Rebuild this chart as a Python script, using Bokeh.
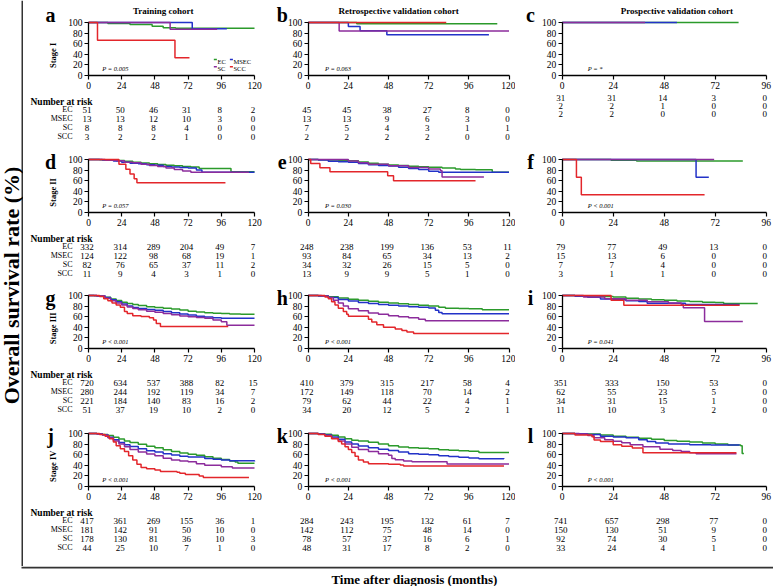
import math
from bokeh.plotting import figure
from bokeh.layouts import row, column
from bokeh.models import Range1d, FixedTicker
from bokeh.core.properties import value
from bokeh.embed import file_html
from bokeh.resources import INLINE

# ---------------- data ----------------
groups = ["EC", "MSEC", "SC", "SCC"]
group_colors = {"EC": "#2b9a2b", "MSEC": "#2332c8", "SC": "#8c2c9c", "SCC": "#e3262b"}
x_ticks_120 = [0, 24, 48, 72, 96, 120]
x_ticks_96 = [0, 24, 48, 72, 96]
y_ticks = [0, 20, 40, 60, 80, 100]
cohort_titles = ["Training cohort", "Retrospective validation cohort", "Prospective validation cohort"]
stage_labels = ["Stage I", "Stage II", "Stage III", "Stage IV"]
panel_letters = [["a", "b", "c"], ["d", "e", "f"], ["g", "h", "i"], ["j", "k", "l"]]
p_texts = [["P = 0.005", "P = 0.063", "P = *"],
           ["P = 0.057", "P = 0.030", "P < 0.001"],
           ["P < 0.001", "P < 0.001", "P = 0.041"],
           ["P < 0.001", "P < 0.001", "P < 0.001"]]
risk_times_120 = [0, 24, 48, 72, 96, 120]
risk_times_96 = [0, 24, 48, 72, 96]

# Kaplan-Meier curves: (months, survival %) ; last point = end of follow-up
km_a = {"EC": ([0, 14, 30, 46, 54, 63, 120], [100, 98, 96, 93, 90, 89, 89]),
        "MSEC": ([0, 75, 100], [100, 88, 88]),
        "SC": ([0, 59, 93], [100, 87.5, 87.5]),
        "SCC": ([0, 6.5, 62.5, 73], [100, 66.7, 33.3, 33.3])}
km_b = {"EC": ([0, 29, 113], [100, 97.8, 97.8]),
        "MSEC": ([0, 24, 31, 47, 108], [100, 92.3, 84.6, 76.9, 76.9]),
        "SC": ([0, 18.5, 120], [100, 84, 84]),
        "SCC": ([0, 82.5], [100, 100])}
km_c = {"EC": ([0, 83], [100, 100]),
        "MSEC": ([0, 54], [100, 100]),
        "SC": ([0, 39], [100, 100])}
km_d = {"EC": ([0, 8, 14, 20, 26, 32, 38, 44, 50, 56, 62, 68, 74, 80, 103, 120],
               [100, 99.5, 99, 98, 96.5, 95, 93.5, 92, 90.5, 89, 88, 87, 86, 83, 77, 77]),
        "MSEC": ([0, 10, 18, 24, 30, 36, 42, 48, 54, 60, 66, 72, 78, 82, 120],
                 [100, 99, 97, 95, 93, 92, 90, 89, 87, 86, 85, 84, 80, 76, 76]),
        "SC": ([0, 12, 20, 26, 32, 38, 44, 50, 56, 62, 68, 74, 116],
               [100, 98.8, 97.5, 95, 93.8, 91, 88.5, 87, 84, 81, 78.5, 76, 76]),
        "SCC": ([0, 22, 27, 30, 33, 35, 99], [100, 90.9, 81.8, 72.7, 63.6, 56, 56])}
km_e = {"EC": ([0, 6, 12, 18, 24, 30, 36, 42, 48, 54, 60, 66, 72, 80, 88, 91, 100, 110, 120],
               [100, 99.6, 99, 98.5, 97.5, 95.5, 93, 91, 89.5, 88.5, 87.5, 86.5, 85.5, 84, 82, 81, 80.5, 76, 76]),
        "MSEC": ([0, 6, 12, 18, 24, 30, 36, 42, 48, 54, 60, 66, 72, 78, 120],
                 [100, 98.9, 96.8, 95.7, 94.6, 92.4, 90, 88.9, 87.8, 85.5, 83, 81, 78, 76, 76]),
        "SC": ([0, 24, 30, 36, 48, 60, 72, 79, 80, 105],
               [100, 97, 94, 91, 88, 85, 82, 79, 67, 67]),
        "SCC": ([0, 1.5, 7, 13, 47.5, 51, 100], [100, 92.3, 84.6, 76.9, 69.2, 60, 60])}
km_f = {"EC": ([0, 23, 35, 85], [100, 98.7, 97, 97]),
        "MSEC": ([0, 63, 69], [100, 66.7, 66.7]),
        "SC": ([0, 71.5], [100, 100]),
        "SCC": ([0, 6.7, 9, 67], [100, 66.7, 33.3, 33.3])}
km_g = {"EC": ([0, 4, 8, 12, 16, 20, 24, 28, 32, 36, 42, 48, 54, 60, 66, 72, 78, 84, 90, 96, 102, 110, 120],
               [100, 99.5, 98.5, 96.5, 93.5, 90.5, 87.5, 85, 83, 81, 79, 77.5, 76, 74.5, 72.5, 70.5, 69, 67.5, 66.5, 66, 65, 64.5, 64.5]),
        "MSEC": ([0, 6, 12, 16, 20, 24, 28, 32, 36, 42, 48, 54, 60, 66, 72, 78, 84, 90, 96, 120],
                 [100, 99, 96, 92, 88, 84, 80, 77.5, 75.5, 73.5, 72, 70, 67.5, 65, 63, 61, 59.5, 58, 57, 57]),
        "SC": ([0, 6, 12, 16, 20, 24, 28, 32, 36, 42, 48, 54, 60, 66, 72, 78, 84, 90, 96, 100, 120],
               [100, 99, 95, 90, 86, 82, 78.5, 75.5, 73, 70.5, 68.5, 66, 63.5, 61.5, 60, 58.5, 57, 54, 50.5, 44, 44]),
        "SCC": ([0, 8, 11, 14, 17, 20, 23, 26, 28, 32, 38, 44, 47, 49, 52, 101],
                [100, 98, 94, 90, 86, 82, 78, 70, 66, 62, 60.5, 58, 54, 47, 41.5, 41.5])}
km_h = {"EC": ([0, 6, 12, 18, 24, 30, 36, 42, 48, 54, 60, 66, 72, 78, 82, 90, 96, 104, 120],
               [100, 99.5, 97.5, 95.5, 93, 91, 89, 87.5, 86, 84.5, 83, 81.5, 80, 78, 76, 75.5, 75, 73, 73]),
        "MSEC": ([0, 6, 12, 18, 24, 30, 36, 42, 48, 54, 60, 66, 72, 76, 78, 80, 120],
                 [100, 99, 96, 92.5, 89.5, 87, 85, 83, 81.5, 80, 79, 78, 76.5, 72, 68, 65.5, 65.5]),
        "SC": ([0, 8, 12, 15, 18, 21, 24, 30, 36, 42, 48, 54, 60, 66, 70, 120],
               [100, 99, 96, 91, 86, 80, 75, 71, 67, 64.5, 62, 60, 58, 55, 52.5, 52.5]),
        "SCC": ([0, 10, 12, 14, 16, 18, 21, 23, 24, 34, 36, 38, 41, 45, 52, 56, 59, 63, 120],
                [100, 97, 94, 88, 82, 76, 70, 64.5, 61, 61, 55, 50, 45, 40, 37, 34, 31, 28.5, 28.5])}
km_i = {"EC": ([0, 6, 12, 18, 24, 30, 36, 42, 48, 54, 60, 66, 72, 76, 92],
               [100, 99.6, 99, 98, 97, 95, 93.5, 92, 91, 89.5, 88.5, 87.5, 87, 85, 85]),
        "MSEC": ([0, 6, 12, 18, 24, 30, 36, 40, 58, 83.5],
                 [100, 98.4, 96.8, 93.5, 91.9, 90.3, 88.5, 85.5, 83, 83]),
        "SC": ([0, 10, 20, 30, 40, 50, 56, 57, 67, 85],
               [100, 97, 94, 91, 88, 86, 83, 77, 51, 51]),
        "SCC": ([0, 23, 29, 83.5], [100, 90.9, 81.8, 81.8])}
km_j = {"EC": ([0, 6, 10, 14, 18, 22, 26, 30, 36, 42, 48, 54, 60, 66, 72, 78, 84, 90, 96, 102, 106, 108, 120],
               [100, 99.5, 98, 96, 93, 89.5, 86, 83, 79.5, 76, 73, 69.5, 66, 63, 61, 59, 56, 53.5, 51, 48, 46, 44, 44]),
        "MSEC": ([0, 6, 10, 14, 18, 22, 26, 30, 36, 42, 48, 54, 60, 66, 72, 84, 90, 96, 102, 120],
                 [100, 99.5, 97.5, 93, 88, 83, 79, 75.5, 71, 67.5, 65, 62, 59.5, 57, 55.5, 53, 51.5, 50, 48.5, 47]),
        "SC": ([0, 6, 10, 14, 18, 22, 26, 30, 36, 42, 48, 54, 60, 66, 72, 78, 84, 96, 104, 120],
               [100, 99, 97, 92, 86, 80, 75, 70, 65, 61.5, 58, 53.5, 50, 48, 46.5, 43, 40, 37.5, 35, 35]),
        "SCC": ([0, 8, 12, 15, 18, 20, 23, 26, 29, 32, 35, 38, 42, 48, 52, 64, 66, 70, 80, 83, 116],
                [100, 98, 95, 90, 84, 77, 71, 66, 58, 50, 42, 36, 33.5, 31, 28.5, 27, 25, 22.5, 20, 17, 17])}
km_k = {"EC": ([0, 6, 10, 14, 18, 22, 26, 30, 36, 42, 48, 54, 60, 66, 72, 78, 84, 90, 96, 102, 120],
               [100, 99.5, 98.5, 96.5, 93.5, 90, 87.5, 86, 83.5, 80, 77, 74.5, 73, 72, 71, 69.5, 68.5, 67.5, 66.5, 64, 64]),
        "MSEC": ([0, 6, 10, 14, 18, 22, 26, 30, 36, 42, 48, 54, 60, 66, 72, 78, 84, 90, 96, 102, 117],
                 [100, 99, 97, 93.5, 89, 84, 80, 76.5, 73, 70.5, 68, 65, 62, 61, 60, 58, 56.5, 55, 54, 52.5, 52]),
        "SC": ([0, 6, 10, 14, 18, 22, 26, 30, 36, 42, 48, 50, 52, 57, 62, 83, 120],
               [100, 98.5, 96, 91, 86, 80, 74, 70, 66, 62, 59, 53, 50.5, 48, 46.5, 42.5, 42.5]),
        "SCC": ([0, 6, 10, 14, 18, 20, 22, 24, 26, 28, 30, 33, 36, 48, 55, 57, 117],
                [100, 98, 95, 90, 85, 80, 75, 70, 64, 57, 50, 46, 43, 42, 40.5, 38.5, 38.5])}
km_l = {"EC": ([0, 6, 12, 18, 24, 30, 36, 42, 48, 54, 60, 66, 72, 78, 84, 84.7, 85.5],
               [100, 99.7, 99, 97, 95, 93, 91, 89, 87, 85.5, 84, 82, 80, 78.5, 77, 62.5, 62.5]),
        "MSEC": ([0, 6, 12, 18, 24, 30, 36, 40, 44, 50, 60, 70, 83.5],
                 [100, 99.3, 98, 95, 93.5, 92, 88, 85, 82, 80, 79, 78.5, 78.5]),
        "SC": ([0, 8, 12, 15, 20, 24, 28, 32, 38, 46, 52, 56, 60, 63, 82],
               [100, 99, 96, 92, 88, 85.5, 82.5, 79, 75, 70.5, 68, 66, 63.5, 62, 62]),
        "SCC": ([0, 6, 14, 15, 18, 24, 28, 33, 38, 82],
                [100, 97, 93.9, 87.9, 84.8, 78.8, 75.8, 72.7, 63.6, 63.6])}

# Number at risk tables
risk_a = {"EC": [51, 50, 46, 31, 8, 2], "MSEC": [13, 13, 12, 10, 3, 0], "SC": [8, 8, 8, 4, 0, 0], "SCC": [3, 2, 2, 1, 0, 0]}
risk_b = {"EC": [45, 45, 38, 27, 8, 0], "MSEC": [13, 13, 9, 6, 3, 0], "SC": [7, 5, 4, 3, 1, 1], "SCC": [2, 2, 2, 2, 0, 0]}
risk_c = {"EC": [31, 31, 14, 3, 0], "MSEC": [2, 2, 1, 0, 0], "SC": [2, 2, 0, 0, 0]}
risk_d = {"EC": [332, 314, 289, 204, 49, 7], "MSEC": [124, 122, 98, 68, 19, 1], "SC": [82, 76, 65, 37, 11, 2], "SCC": [11, 9, 4, 3, 1, 0]}
risk_e = {"EC": [248, 238, 199, 136, 53, 11], "MSEC": [93, 84, 65, 34, 13, 2], "SC": [34, 32, 26, 15, 5, 0], "SCC": [13, 9, 9, 5, 1, 0]}
risk_f = {"EC": [79, 77, 49, 13, 0], "MSEC": [15, 13, 6, 0, 0], "SC": [7, 7, 4, 0, 0], "SCC": [3, 1, 1, 0, 0]}
risk_g = {"EC": [720, 634, 537, 388, 82, 15], "MSEC": [280, 244, 192, 119, 34, 7], "SC": [221, 184, 140, 83, 16, 2], "SCC": [51, 37, 19, 10, 2, 0]}
risk_h = {"EC": [410, 379, 315, 217, 58, 4], "MSEC": [172, 149, 118, 70, 14, 2], "SC": [79, 62, 44, 22, 4, 1], "SCC": [34, 20, 12, 5, 2, 1]}
risk_i = {"EC": [351, 333, 150, 53, 0], "MSEC": [62, 55, 23, 5, 0], "SC": [34, 31, 15, 1, 0], "SCC": [11, 10, 3, 2, 0]}
risk_j = {"EC": [417, 361, 269, 155, 36, 1], "MSEC": [181, 142, 91, 50, 10, 0], "SC": [178, 130, 81, 36, 10, 3], "SCC": [44, 25, 10, 7, 1, 0]}
risk_k = {"EC": [284, 243, 195, 132, 61, 7], "MSEC": [142, 112, 75, 48, 14, 0], "SC": [78, 57, 37, 16, 6, 1], "SCC": [48, 31, 17, 8, 2, 0]}
risk_l = {"EC": [741, 657, 298, 77, 0], "MSEC": [150, 130, 51, 9, 0], "SC": [92, 74, 30, 5, 0], "SCC": [33, 24, 4, 1, 0]}

km_all = [[km_a, km_b, km_c], [km_d, km_e, km_f], [km_g, km_h, km_i], [km_j, km_k, km_l]]
risk_all = [[risk_a, risk_b, risk_c], [risk_d, risk_e, risk_f], [risk_g, risk_h, risk_i], [risk_j, risk_k, risk_l]]

# ---------------- layout (pixels) ----------------
FONT = "Liberation Serif"
YLAB_W = 23
col_w = [239, 253, 258]
col_x0 = [65.0, 45.7, 46.7]          # px from panel left to x = 0
col_xmax = [120, 120, 96]
col_plotw = [166.0, 200.8, 204.0]    # px from x = 0 to x = xmax
row_h = [142, 137, 137, 150]
row_y100 = [22.0, 17.0, 16.0, 17.0]   # px from panel top to y = 100
PLOT_H = 53.0
PPU = PLOT_H / 100.0
risk_off = [34.0, 43.0, 52.0, 61.0]   # px below y = 0 for each group row
risk_off_c = [22.0, 30.0, 38.0]
header_off = 26.0
letter_px = [27.0, 19.7, 15.0]
XLAB_H = 20


def make_panel(r, c):
    W, H = col_w[c], row_h[r]
    x0, xmax = col_x0[c], col_xmax[c]
    ppm = col_plotw[c] / xmax
    Y0 = row_y100[r] + PLOT_H

    def dx(px):
        return (px - x0) / ppm

    def dy(px):
        return (Y0 - px) / PPU

    p = figure(width=W, height=H, x_range=Range1d(dx(0), dx(W)), y_range=Range1d(dy(H), dy(0)),
               output_backend="svg", toolbar_location=None, min_border=0)
    p.outline_line_color = None
    p.grid.grid_line_color = None
    p.background_fill_color = "white"
    p.border_fill_color = "white"

    ticks = x_ticks_120 if xmax == 120 else x_ticks_96
    xa = p.xaxis[0]
    ya = p.yaxis[0]
    xa.ticker = FixedTicker(ticks=ticks)
    ya.ticker = FixedTicker(ticks=y_ticks)
    xa.bounds = (0, xmax)
    ya.bounds = (0, 100)
    xa.fixed_location = 0
    ya.fixed_location = 0
    for ax in (xa, ya):
        ax.axis_line_color = "black"
        ax.axis_line_width = 1.3
        ax.major_tick_line_color = "black"
        ax.major_tick_line_width = 1.2
        ax.major_tick_out = 4
        ax.major_tick_in = 0
        ax.minor_tick_out = 0
        ax.minor_tick_in = 0
        ax.major_label_text_font = FONT
        ax.major_label_text_font_size = "9.5px"
        ax.major_label_text_color = "black"
        ax.major_label_standoff = 2

    km = km_all[r][c]
    for g in groups:
        if g in km:
            t, s = km[g]
            p.step(t, s, mode="after", line_color=group_colors[g], line_width=1.5)

    # risk table
    rk = risk_all[r][c]
    rt = risk_times_120 if xmax == 120 else risk_times_96
    offs = risk_off_c if (r == 0 and c == 2) else risk_off
    k = 0
    for g in groups:
        if g in rk:
            p.text(x=rt, y=[dy(Y0 + offs[k])] * len(rt), text=[str(v) for v in rk[g]],
                   text_font=value(FONT), text_font_size="9px", text_align="center",
                   text_baseline="middle", x_offset=-1.5, text_color="black")
            if c == 0:
                p.text(x=[dx(49)], y=[dy(Y0 + offs[k])], text=[g], text_font=value(FONT),
                       text_font_size="8px", text_align="right", text_baseline="middle", text_color="black")
            k += 1
    if c == 0:
        p.text(x=[dx(7)], y=[dy(Y0 + header_off)], text=["Number at risk"], text_font=value(FONT),
               text_font_size="9.5px", text_font_style="bold", text_align="left", text_baseline="middle")
        p.text(x=[dx(29)], y=[38], text=[stage_labels[r]], angle=math.pi / 2, text_font=value(FONT),
               text_font_size="8.5px", text_font_style="bold", text_align="center", text_baseline="middle")

    if r == 0:
        p.text(x=[54], y=[dy(10)], text=[cohort_titles[c]], text_font=value(FONT), text_font_size="9px",
               text_font_style="bold", text_align="center", text_baseline="middle")

    p.text(x=[dx(letter_px[c])], y=[dy(14 if r == 0 else row_y100[r] + 2.5)], text=[panel_letters[r][c]],
           text_font=value(FONT), text_font_size="20px", text_font_style="bold",
           text_align="center", text_baseline="alphabetic")

    p.text(x=[10 if c < 2 else 12], y=[14], text=[p_texts[r][c]], text_font=value(FONT),
           text_font_size="6.5px", text_font_style="italic", text_align="left", text_baseline="middle")

    if r == 0 and c == 0:
        leg_x = [90.6, 102.2, 90.6, 102.2]
        leg_y = [26.4, 26.4, 12.6, 12.6]
        for g, lx, ly in zip(groups, leg_x, leg_y):
            p.segment(x0=[lx], y0=[ly + 4], x1=[lx + 2.2], y1=[ly + 4], line_color=group_colors[g], line_width=1.5)
            p.text(x=[lx + 2.6], y=[ly], text=[g], text_font=value(FONT), text_font_size="6.5px",
                   text_align="left", text_baseline="middle")
    return p


rows = []
for r in range(4):
    rows.append(row(*[make_panel(r, c) for c in range(3)], spacing=0))
grid = column(*rows, spacing=0)

GRID_H = sum(row_h)
ylab = figure(width=YLAB_W, height=GRID_H, x_range=Range1d(0, YLAB_W), y_range=Range1d(0, GRID_H),
              output_backend="svg", toolbar_location=None, min_border=0,
              x_axis_location=None, y_axis_location=None)
ylab.outline_line_color = None
ylab.grid.grid_line_color = None
ylab.segment(x0=[22], y0=[0], x1=[22], y1=[GRID_H], line_color="#333333", line_width=2)
ylab.text(x=[10.5], y=[GRID_H - 285], text=["Overall survival rate (%)"], angle=math.pi / 2,
          text_font=value(FONT), text_font_size="22px", text_font_style="bold",
          text_align="center", text_baseline="middle")

TOTAL_W = YLAB_W + sum(col_w)
xlab = figure(width=TOTAL_W, height=XLAB_H, x_range=Range1d(0, TOTAL_W), y_range=Range1d(0, XLAB_H),
              output_backend="svg", toolbar_location=None, min_border=0,
              x_axis_location=None, y_axis_location=None)
xlab.outline_line_color = None
xlab.grid.grid_line_color = None
xlab.segment(x0=[21], y0=[XLAB_H - 1], x1=[TOTAL_W], y1=[XLAB_H - 1], line_color="#333333", line_width=2)
xlab.text(x=[414], y=[7], text=["Time after diagnosis (months)"], text_font=value(FONT),
          text_font_size="13px", text_font_style="bold", text_align="center", text_baseline="middle")

layout = column(row(ylab, grid, spacing=0), xlab, spacing=0)

with open("out.html", "w") as f:
    f.write(file_html(layout, INLINE))
